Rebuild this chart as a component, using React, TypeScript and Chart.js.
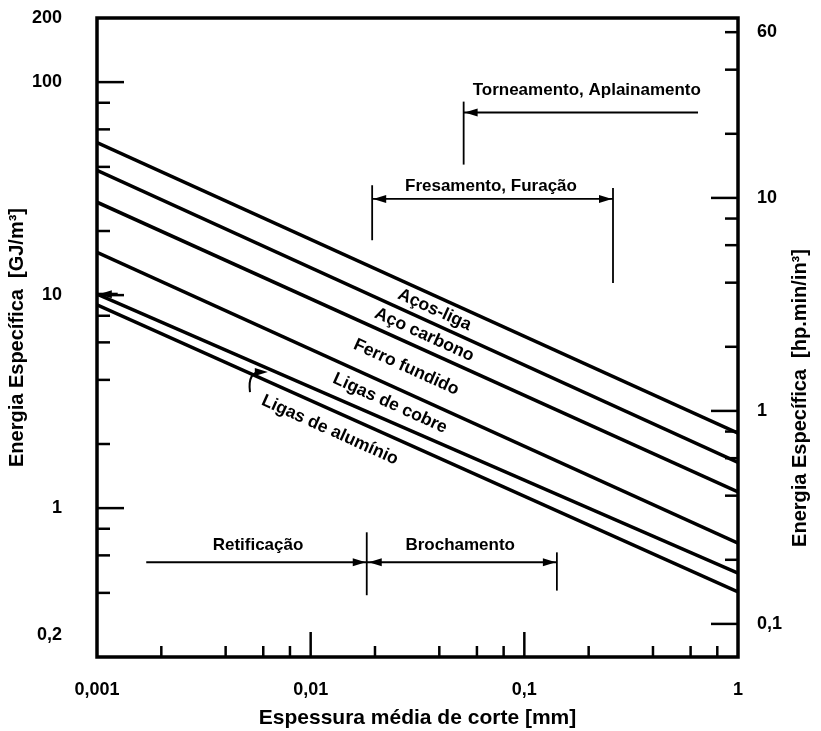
import React, { useEffect, useRef } from "react";
import { Chart, registerables } from "chart.js";
Chart.register(...registerables);

// ---- data ----
const xRange = [0.001, 1];
const materials = ["Aços-liga", "Aço carbono", "Ferro fundido", "Ligas de cobre", "Ligas de alumínio (sup.)", "Ligas de alumínio"];
const energyAtXmin = [52, 38.5, 27.3, 15.9, 10.1, 9.0];
const energyAtXmax = [2.25, 1.64, 1.19, 0.685, 0.495, 0.404];

const labelText = ["Aços-liga", "Aço carbono", "Ferro fundido", "Ligas de cobre", "Ligas de alumínio"];
const labelAtX = [0.038, 0.034, 0.028, 0.0235, 0.0123];

const xTicks = [0.001, 0.01, 0.1, 1];
const xMinor = [0.002, 0.004, 0.006, 0.008, 0.02, 0.04, 0.06, 0.08, 0.2, 0.4, 0.6, 0.8];
const yTicks = [0.2, 1, 10, 100, 200];
const yMajorMarks = [1, 10, 100];
const yMinor = [0.4, 0.6, 0.8, 2, 4, 6, 8, 20, 40, 60, 80];
const y2Ticks = [0.1, 1, 10, 60];
const y2MajorMarks = [0.1, 1, 10];
const y2Minor = [0.2, 0.4, 0.6, 0.8, 2, 4, 6, 8, 20, 40, 60];
const gjPerHpUnit = 2.86;

const processNames = ["Torneamento, Aplainamento", "Fresamento, Furação", "Retificação", "Brochamento"];
const processFrom = [0.052, 0.0194, 0.0017, 0.0183];
const processTo = [0.65, 0.26, 0.0183, 0.142];
const processLevel = [72, 28.3, 0.557, 0.557];
const processTextX = [0.196, 0.0698, 0.00567, 0.0501];
const processTextY = [91.7, 32.5, 0.67, 0.67];

const FONT = '"Liberation Sans", Arial, sans-serif';
const fmt = (v: number) => String(v).replace(".", ",");

function arrowHead(ctx: CanvasRenderingContext2D, tx: number, ty: number, dir: number) {
  ctx.beginPath();
  ctx.moveTo(tx, ty);
  ctx.lineTo(tx - dir * 13, ty - 4);
  ctx.lineTo(tx - dir * 13, ty + 4);
  ctx.closePath();
  ctx.fill();
}

const framePlugin = {
  id: "frameAndNotes",
  afterDatasetsDraw(chart: any) {
    const ctx: CanvasRenderingContext2D = chart.ctx;
    const { left, right, top, bottom } = chart.chartArea;
    const sx = chart.scales.x;
    const sy = chart.scales.y;
    const sy2 = chart.scales.y2;
    ctx.save();
    ctx.strokeStyle = "#000";
    ctx.fillStyle = "#000";
    // frame
    ctx.lineWidth = 3.5;
    ctx.strokeRect(left, top, right - left, bottom - top);
    // ticks
    ctx.lineWidth = 2.5;
    const hTick = (x0: number, y: number, len: number) => {
      ctx.beginPath(); ctx.moveTo(x0, y); ctx.lineTo(x0 + len, y); ctx.stroke();
    };
    const vTick = (x: number, y0: number, len: number) => {
      ctx.beginPath(); ctx.moveTo(x, y0); ctx.lineTo(x, y0 - len); ctx.stroke();
    };
    yMajorMarks.forEach((v) => hTick(left, sy.getPixelForValue(v), 27));
    yMinor.forEach((v) => hTick(left, sy.getPixelForValue(v), 13));
    y2MajorMarks.forEach((v) => hTick(right, sy2.getPixelForValue(v), -27));
    y2Minor.forEach((v) => hTick(right, sy2.getPixelForValue(v), -13));
    [0.01, 0.1].forEach((v) => vTick(sx.getPixelForValue(v), bottom, 25));
    xMinor.forEach((v) => vTick(sx.getPixelForValue(v), bottom, 11));

    // line labels
    const lx0 = Math.log10(xRange[0]);
    const lx1 = Math.log10(xRange[1]);
    const valAt = (i: number, x: number) => {
      const t = (Math.log10(x) - lx0) / (lx1 - lx0);
      return Math.pow(10, Math.log10(energyAtXmin[i]) + t * (Math.log10(energyAtXmax[i]) - Math.log10(energyAtXmin[i])));
    };
    ctx.font = `bold 17.5px ${FONT}`;
    ctx.textAlign = "center";
    ctx.textBaseline = "middle";
    labelText.forEach((txt, i) => {
      const x = labelAtX[i];
      const px = sx.getPixelForValue(x);
      let py: number;
      let li = i;
      if (i < 4) {
        py = (sy.getPixelForValue(valAt(i, x)) + sy.getPixelForValue(valAt(i + 1, x))) / 2;
      } else {
        li = 5;
        py = sy.getPixelForValue(valAt(5, x)) + 21;
      }
      const ang = Math.atan2(
        sy.getPixelForValue(energyAtXmax[li]) - sy.getPixelForValue(energyAtXmin[li]),
        sx.getPixelForValue(xRange[1]) - sx.getPixelForValue(xRange[0])
      );
      ctx.save();
      ctx.translate(px, py);
      ctx.rotate(ang);
      ctx.fillText(txt, 0, 0);
      ctx.restore();
    });

    // process ranges
    ctx.font = `bold 17px ${FONT}`;
    ctx.lineWidth = 1.8;
    const P = (x: number) => sx.getPixelForValue(x);
    const Q = (y: number) => sy.getPixelForValue(y);
    const line = (x0: number, y0: number, x1: number, y1: number) => {
      ctx.beginPath(); ctx.moveTo(x0, y0); ctx.lineTo(x1, y1); ctx.stroke();
    };
    processNames.forEach((name, i) => {
      const x0 = P(processFrom[i]);
      const x1 = P(processTo[i]);
      const y = Q(processLevel[i]);
      line(x0, y, x1, y);
      ctx.fillText(name, P(processTextX[i]), Q(processTextY[i]));
    });
    // Torneamento
    line(P(processFrom[0]), Q(81), P(processFrom[0]), Q(41));
    arrowHead(ctx, P(processFrom[0]) + 1, Q(processLevel[0]), -1);
    // Fresamento
    line(P(processFrom[1]), Q(32.8), P(processFrom[1]), Q(18.1));
    line(P(processTo[1]), Q(31.8), P(processTo[1]), Q(11.4));
    arrowHead(ctx, P(processFrom[1]) + 1, Q(processLevel[1]), -1);
    arrowHead(ctx, P(processTo[1]) - 1, Q(processLevel[1]), 1);
    // Retificação / Brochamento
    line(P(processTo[2]), Q(0.77), P(processTo[2]), Q(0.39));
    arrowHead(ctx, P(processTo[2]) - 1, Q(processLevel[2]), 1);
    arrowHead(ctx, P(processFrom[3]) + 2, Q(processLevel[3]), -1);
    line(P(processTo[3]), Q(0.62), P(processTo[3]), Q(0.41));
    arrowHead(ctx, P(processTo[3]) - 1, Q(processLevel[3]), 1);

    // small arrow at left end of line 5
    ctx.lineWidth = 3;
    line(P(0.001), Q(energyAtXmin[4]), P(0.00125), Q(energyAtXmin[4]));
    arrowHead(ctx, P(0.00102), Q(energyAtXmin[4]), -1);

    // curved pointer to aluminium upper line
    ctx.lineWidth = 2;
    const sxp = P(0.0052), syp = Q(3.5);
    const cxp = P(0.00505), cyp = Q(4.4);
    const txp = P(0.0063), typ = Q(4.35);
    ctx.beginPath();
    ctx.moveTo(sxp, syp);
    ctx.quadraticCurveTo(cxp, cyp, txp - 6, typ);
    ctx.stroke();
    arrowHead(ctx, txp, typ, 1);

    // right axis title (reads bottom to top)
    ctx.font = `bold 20px ${FONT}`;
    ctx.save();
    ctx.translate(800, 398);
    ctx.rotate(-Math.PI / 2);
    ctx.fillText("Energia Específica  [hp.min/in³]", 0, 0);
    ctx.restore();
    ctx.restore();
  },
};

export default function App() {
  const ref = useRef<HTMLCanvasElement | null>(null);
  useEffect(() => {
    if (!ref.current) return;
    const tickFont = { family: FONT, size: 18, weight: "bold" as const };
    const noPad = (s: any) => { s.paddingTop = 0; s.paddingBottom = 0; s.paddingLeft = 0; s.paddingRight = 0; };
    const chart = new Chart(ref.current, {
      type: "scatter",
      data: {
        datasets: materials.map((m, i) => ({
          label: m,
          data: [
            { x: xRange[0], y: energyAtXmin[i] },
            { x: xRange[1], y: energyAtXmax[i] },
          ],
          showLine: true,
          borderColor: "#000",
          backgroundColor: "#000",
          borderWidth: 3.5,
          pointRadius: 0,
          yAxisID: "y",
        })),
      },
      options: {
        animation: false,
        responsive: false,
        maintainAspectRatio: false,
        layout: { padding: { top: 18, left: 0, right: 0, bottom: 0 } },
        plugins: { legend: { display: false }, tooltip: { enabled: false } },
        scales: {
          x: {
            type: "logarithmic",
            position: "bottom",
            min: xRange[0],
            max: xRange[1],
            afterBuildTicks: (s: any) => { s.ticks = xTicks.map((v) => ({ value: v })); },
            afterFit: (s: any) => { s.height = 74; noPad(s); },
            grid: { display: false, drawTicks: false },
            border: { display: false },
            ticks: { color: "#000", font: tickFont, padding: 22, autoSkip: false, maxRotation: 0, callback: (v: any) => fmt(Number(v)) },
            title: { display: true, text: "Espessura média de corte [mm]", color: "#000", font: { family: FONT, size: 21, weight: "bold" }, padding: { top: 0, bottom: 0 } },
          },
          y: {
            type: "logarithmic",
            position: "left",
            min: 0.2,
            max: 200,
            afterBuildTicks: (s: any) => { s.ticks = yTicks.map((v) => ({ value: v })); },
            afterFit: (s: any) => { s.width = 97; noPad(s); },
            grid: { display: false, drawTicks: false },
            border: { display: false },
            ticks: {
              color: "#000", font: tickFont, padding: 35, autoSkip: false,
              callback: (v: any) => (Number(v) === 0.2 ? ["0,2", "", ""] : fmt(Number(v))),
            },
            title: { display: true, text: "Energia Específica  [GJ/m³]", color: "#000", font: { family: FONT, size: 20, weight: "bold" }, padding: { top: 5, bottom: 0 } },
          },
          y2: {
            type: "logarithmic",
            position: "right",
            min: 0.2 / gjPerHpUnit,
            max: 200 / gjPerHpUnit,
            afterBuildTicks: (s: any) => { s.ticks = y2Ticks.map((v) => ({ value: v })); },
            afterFit: (s: any) => { s.width = 83; noPad(s); },
            grid: { display: false, drawTicks: false },
            border: { display: false },
            ticks: { color: "#000", font: tickFont, padding: 19, autoSkip: false, callback: (v: any) => fmt(Number(v)) },
          },
        },
      },
      plugins: [framePlugin],
    } as any);
    return () => chart.destroy();
  }, []);
  return (
    <div style={{ position: "absolute", left: 0, top: 0, width: 821, height: 731, background: "#fff" }}>
      <canvas ref={ref} width={821} height={731} style={{ display: "block" }} />
    </div>
  );
}
